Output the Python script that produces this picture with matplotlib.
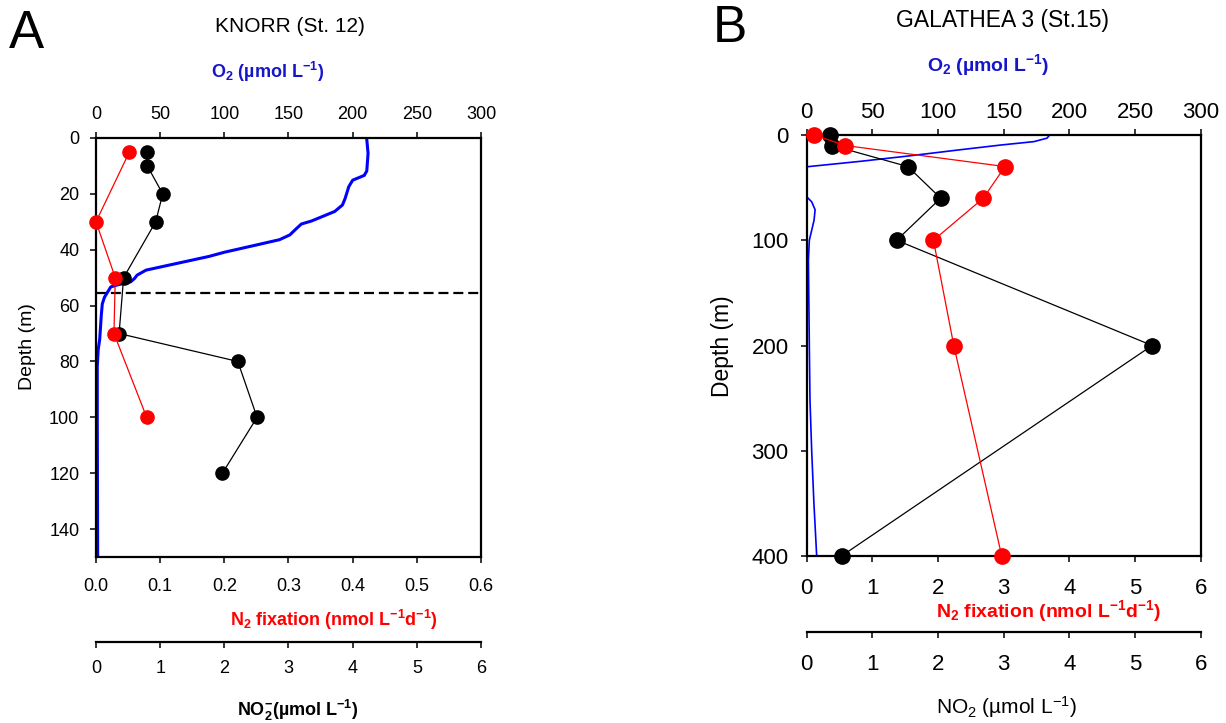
# Depth profiles of O2, N2 fixation and NO2 at two stations

import matplotlib
matplotlib.use('Agg')
import matplotlib.pyplot as plt

plt.rcParams['font.family'] = ['Liberation Sans', 'DejaVu Sans']
plt.rcParams['mathtext.fontset'] = 'custom'
plt.rcParams['mathtext.rm'] = 'Liberation Sans'
plt.rcParams['mathtext.bf'] = 'Liberation Sans:bold'
plt.rcParams['mathtext.default'] = 'regular'

# ---- panel A : KNORR (St. 12) ----
a_o2_depth = [0.5, 5.5, 11.8, 13.4, 15.1, 17.4, 21.8, 24, 26.3, 28, 29.7, 30.8, 32.5, 34.7,
              36.4, 38.4, 40.9, 42.4, 44.8, 47.3, 49.1, 50.3, 51.5, 52.5, 53.3, 55.2, 57,
              59.4, 63.6, 68.5, 72, 75.8, 81.8, 101, 150]
a_o2 = [211, 212, 211, 209, 200, 197, 194, 192, 186, 177, 168, 160, 156, 151,
        143, 124, 100, 88, 64, 39, 32, 30, 27, 17.5, 11.5, 9, 6.6,
        4.9, 4.1, 3.4, 2.9, 1.7, 1.0, 1.0, 1.3]
a_n2_depth = [5, 30, 50, 70, 100]
a_n2 = [0.052, 0.0, 0.030, 0.028, 0.079]
a_no2_depth = [5, 10, 20, 30, 50, 70, 80, 100, 120]
a_no2 = [0.80, 0.80, 1.04, 0.93, 0.43, 0.36, 2.21, 2.51, 1.97]
a_oxycline = 55.5

# ---- panel B : GALATHEA 3 (St.15) ----
b_o2_depth = [0, 3, 6.3, 9.5, 14, 20, 25, 30.2, 58.7, 63.5, 71, 81, 90.5, 100, 119,
              200, 252, 300, 350, 400]
b_o2 = [185, 183, 173, 148, 117, 77, 41, 0, 0, 3.8, 6.4, 5.6, 3.8, 2.0, 1.3,
        2.0, 2.5, 3.8, 5.5, 7.6]
b_n2_depth = [0, 10, 30, 60, 100, 200, 400]
b_n2 = [0.11, 0.59, 3.02, 2.69, 1.93, 2.24, 2.97]
b_no2_depth = [0, 10, 30, 60, 100, 200, 400]
b_no2 = [0.35, 0.39, 1.54, 2.04, 1.37, 5.26, 0.53]

W, H = 1226, 723
fig = plt.figure(figsize=(W / 100, H / 100), dpi=100)


def fx(x):
    return x / W


def fy(y):
    return 1 - y / H


def make_panel(box, o2_depth, o2, n2_depth, n2, no2_depth, no2, ymax, yticks, n2_max,
               n2_ticks, n2_fmt, tsize, pads, no2_off, msize, o2_lw):
    l, t, r, b = box
    ax = fig.add_axes([fx(l), fy(b), fx(r) - fx(l), fy(t) - fy(b)])
    # O2 on the base axes, ticks on top
    ax.plot(o2, o2_depth, color='#0000ff', lw=o2_lw, zorder=2)
    ax.set_xlim(0, 300)
    ax.set_xticks(range(0, 301, 50))
    ax.set_ylim(ymax, 0)
    ax.set_yticks(yticks)
    for s in ax.spines.values():
        s.set_linewidth(1.6)

    # NO2 on its own detached bottom axis
    ax3 = ax.twiny()
    ax3.plot(no2, no2_depth, color='black', lw=0.9, marker='o', ms=msize,
             clip_on=False, zorder=3)
    ax3.set_xlim(0, 6)
    ax3.set_xticks(range(0, 7))
    ax3.xaxis.set_ticks_position('bottom')
    ax3.spines['bottom'].set_position(('axes', no2_off))
    for k in ['top', 'left', 'right']:
        ax3.spines[k].set_visible(False)
    ax3.spines['bottom'].set_linewidth(1.6)
    ax3.tick_params(axis='x', direction='out', length=4, width=1.1, labelsize=tsize, pad=pads[3])

    # N2 fixation on bottom of the frame
    ax2 = ax.twiny()
    ax2.plot(n2, n2_depth, color='#ff0000', lw=0.9, marker='o', ms=msize,
             clip_on=False, zorder=4)
    ax2.set_xlim(0, n2_max)
    ax2.set_xticks(n2_ticks)
    ax2.set_xticklabels([n2_fmt.format(v) for v in n2_ticks])
    ax2.xaxis.set_ticks_position('bottom')
    for s in ax2.spines.values():
        s.set_visible(False)
    ax2.tick_params(axis='x', direction='out', length=4, width=1.1, labelsize=tsize, pad=pads[2])

    # twiny() moves the base ticks to the bottom, so put O2 back on top
    ax.xaxis.set_ticks_position('top')
    ax.tick_params(axis='x', direction='out', length=4, width=1.1, labelsize=tsize, pad=pads[0])
    ax.tick_params(axis='y', direction='out', length=4, width=1.1, labelsize=tsize, pad=pads[1])
    return ax


# panel A
ax_a = make_panel((96, 138, 481, 557), a_o2_depth, a_o2, a_n2_depth, a_n2,
                  a_no2_depth, a_no2, 150, range(0, 141, 20), 0.6,
                  [0, 0.1, 0.2, 0.3, 0.4, 0.5, 0.6], '{:.1f}', 13,
                  (7, 8, 11, 9.5), -84.7 / 419, 9.5, 2.2)
ax_a.axhline(a_oxycline, color='black', lw=1.6, ls=(0, (4.5, 2.2)), zorder=1)

# panel B
ax_b = make_panel((806.7, 135, 1200.7, 556), b_o2_depth, b_o2, b_n2_depth, b_n2,
                  b_no2_depth, b_no2, 400, range(0, 401, 100), 6,
                  list(range(0, 7)), '{:d}', 16,
                  (4.5, 9, 12, 11.5), -76 / 421, 11, 1.2)

blue_lab = '#1515cc'

# labels panel A
fig.text(fx(26), fy(34), 'A', fontsize=38, ha='center', va='center')
fig.text(fx(290), fy(27), 'KNORR (St. 12)', fontsize=15, ha='center', va='center')
fig.text(fx(268), fy(72), r'O$_2$ (µmol L$^{-1}$)', fontsize=13, fontweight='bold',
         color=blue_lab, ha='center', va='center')
fig.text(fx(27), fy(347), 'Depth (m)', fontsize=14, rotation=90, ha='center', va='center')
fig.text(fx(334), fy(620), r'N$_2$ fixation (nmol L$^{-1}$d$^{-1}$)', fontsize=13,
         fontweight='bold', color='#ff0000', ha='center', va='center')
fig.text(fx(298), fy(710), r'NO$_2^{-}$(µmol L$^{-1}$)', fontsize=13, fontweight='bold',
         ha='center', va='center')

# labels panel B
fig.text(fx(730), fy(28), 'B', fontsize=37, ha='center', va='center')
fig.text(fx(1002), fy(20), 'GALATHEA 3 (St.15)', fontsize=16.5, ha='center', va='center')
fig.text(fx(988), fy(65), r'O$_\mathbf{2}$ (µmol L$^{\mathbf{−1}}$)', fontsize=14,
         fontweight='bold', color=blue_lab, ha='center', va='center')
fig.text(fx(722), fy(346), 'Depth (m)', fontsize=16.5, rotation=90, ha='center', va='center')
fig.text(fx(1048), fy(611), r'N$_2$ fixation (nmol L$^{-1}$d$^{-1}$)', fontsize=14,
         fontweight='bold', color='#ff0000', ha='center', va='center')
fig.text(fx(1007), fy(707), r'NO$_2$ (µmol L$^{−1}$)', fontsize=15,
         ha='center', va='center')

fig.savefig('out.png', dpi=100)
